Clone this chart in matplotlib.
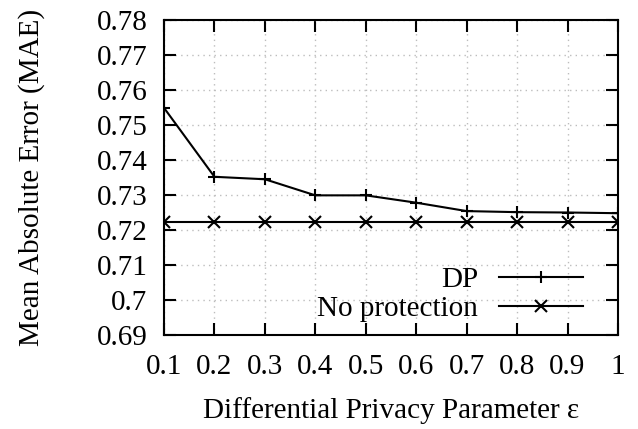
import matplotlib
matplotlib.use("Agg")
import matplotlib.pyplot as plt

eps = [0.1, 0.2, 0.3, 0.4, 0.5, 0.6, 0.7, 0.8, 0.9, 1.0]
dp = [0.7549, 0.7352, 0.7345, 0.7299, 0.7299, 0.7278, 0.7254, 0.7251, 0.7250, 0.7248]
noprot = [0.7222] * 10
xticks = [0.1, 0.2, 0.3, 0.4, 0.5, 0.6, 0.7, 0.8, 0.9, 1.0]
xticklabels = ["0.1", "0.2", "0.3", "0.4", "0.5", "0.6", "0.7", "0.8", "0.9", "1"]
yticks = [0.69, 0.70, 0.71, 0.72, 0.73, 0.74, 0.75, 0.76, 0.77, 0.78]
yticklabels = ["0.69", "0.7", "0.71", "0.72", "0.73", "0.74", "0.75", "0.76", "0.77", "0.78"]

plt.rcParams['font.family'] = ['Liberation Serif', 'DejaVu Serif']

FS = 21
W, H = 638, 429
L, R, T, B = 164, 618, 20, 335

fig = plt.figure(figsize=(W / 100, H / 100), dpi=100)
ax = fig.add_axes([L / W, (H - B) / H, (R - L) / W, (B - T) / H])

ax.plot(eps, dp, color='black', lw=1.5, marker='+', ms=9, mew=1.5, label='DP')
ax.plot(eps, noprot, color='black', lw=1.5, marker='x', ms=9, mew=1.5, label='No protection')

ax.set_xlim(0.1, 1.0)
ax.set_ylim(0.69, 0.78)
ax.set_xticks(xticks)
ax.set_xticklabels(xticklabels)
ax.set_yticks(yticks)
ax.set_yticklabels(yticklabels)
ax.tick_params(direction='in', top=True, right=True, length=8.6, width=1.5, labelsize=FS)
ax.tick_params(axis='y', pad=12)
ax.tick_params(axis='x', pad=14)
for s in ax.spines.values():
    s.set_linewidth(1.5)
ax.grid(True, color='#bdbdbd', linestyle=(0, (1, 3)), lw=1.0)

ax.set_xlabel('Differential Privacy Parameter ε', fontsize=FS, labelpad=12)
ax.set_ylabel('Mean Absolute Error (MAE)', fontsize=FS, labelpad=37)

leg = ax.legend(loc='lower right', bbox_to_anchor=(0.923, 0.041), frameon=False,
                fontsize=FS, markerfirst=False, handlelength=2.88, borderpad=0,
                borderaxespad=0, handletextpad=0.72, labelspacing=0.1)

fig.savefig('out.png', dpi=100)
